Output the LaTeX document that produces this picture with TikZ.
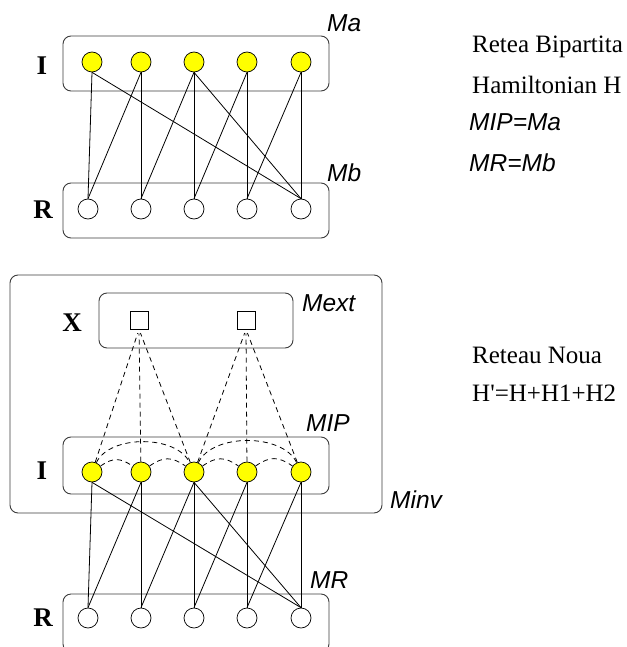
\documentclass[tikz,border=0pt]{standalone}
\usepackage{fontspec}
\setmainfont{Liberation Serif}
\newfontfamily\labelfont{Liberation Sans}
\definecolor{nodeyellow}{RGB}{255, 255, 0}
\definecolor{boxgray}{RGB}{60, 60, 60}
\usetikzlibrary{positioning, calc}

\tikzset{
  inode/.style={circle, draw, fill=nodeyellow, minimum size=20pt, inner sep=0pt, line width=0.7pt},
  rnode/.style={circle, draw, fill=white, minimum size=20pt, inner sep=0pt, line width=0.7pt},
  xnode/.style={rectangle, draw, fill=white, minimum size=18pt, inner sep=0pt, line width=0.7pt},
  group/.style={draw=boxgray, rounded corners=8pt, line width=0.9pt},
  setname/.style={font=\fontsize{27}{30}\selectfont\bfseries},
  mname/.style={font=\labelfont\itshape\fontsize{24.5}{27}\selectfont, anchor=west, inner sep=0pt},
  note/.style={font=\fontsize{25}{28}\selectfont, anchor=west, inner sep=0pt},
  link/.style={line width=0.8pt},
  dlink/.style={line width=0.8pt, dash pattern=on 5pt off 4pt},
  shortarc/.style={dlink, out=35, in=145, looseness=1.2},
  longarc/.style={dlink, out=65, in=115, looseness=0.85}
}

\begin{document}
\begin{tikzpicture}[x=1pt, y=-1pt]
  \useasboundingbox (0,0) rectangle (626,647);

  % Bipartite network
  \draw[group] (63,36) rectangle (329,91);
  \draw[group] (63,183) rectangle (329,238);
  \node[setname] (li1) at (42,66) {I};
  \node[setname] (lr1) at (43,210) {R};
  \node[mname] (ma) at (327,23) {Ma};
  \node[mname] (mb) at (327,173) {Mb};

  \node[inode] (ia1) at (92,62) {};
  \node[inode] (ia2) at (141,62) {};
  \node[inode] (ia3) at (194,62) {};
  \node[inode] (ia4) at (247,62) {};
  \node[inode] (ia5) at (301,62) {};

  \node[rnode] (rb1) at (88,209) {};
  \node[rnode] (rb2) at (141,209) {};
  \node[rnode] (rb3) at (194,209) {};
  \node[rnode] (rb4) at (247,209) {};
  \node[rnode] (rb5) at (301,209) {};

  \draw[link] (ia1.south) -- (rb1.north);
  \draw[link] (ia1.south) -- (rb5.north);
  \draw[link] (ia2.south) -- (rb1.north);
  \draw[link] (ia2.south) -- (rb2.north);
  \draw[link] (ia3.south) -- (rb2.north);
  \draw[link] (ia3.south) -- (rb3.north);
  \draw[link] (ia3.south) -- (rb5.north);
  \draw[link] (ia4.south) -- (rb3.north);
  \draw[link] (ia4.south) -- (rb4.north);
  \draw[link] (ia5.south) -- (rb4.north);
  \draw[link] (ia5.south) -- (rb5.north);

  % Notes on the right
  \node[note] (t1) at (472,47) {Retea Bipartita};
  \node[note] (t2) at (472,85) {Hamiltonian H};
  \node[mname] (t3) at (469,122) {MIP=Ma};
  \node[mname] (t4) at (469,163) {MR=Mb};
  \node[note] (t5) at (472,355) {Reteau Noua};
  \node[note] (t6) at (472,393) {H\textquotesingle=H+H1+H2};

  % New network
  \draw[group] (10,275) rectangle (382,513);
  \draw[group] (99,293) rectangle (293,348);
  \draw[group] (63,437) rectangle (329,494);
  \draw[group] (63,594) rectangle (329,652);
  \node[setname] (lx) at (72,323) {X};
  \node[setname] (li2) at (42,471) {I};
  \node[setname] (lr2) at (43,618) {R};
  \node[mname] (mext) at (302,303) {Mext};
  \node[mname] (mip) at (306,423) {MIP};
  \node[mname] (minv) at (390,500) {Minv};
  \node[mname] (mr) at (310,580) {MR};

  \node[xnode] (x1) at (139,320) {};
  \node[xnode] (x2) at (246,320) {};

  \node[inode] (ip1) at (92,472) {};
  \node[inode] (ip2) at (141,472) {};
  \node[inode] (ip3) at (194,472) {};
  \node[inode] (ip4) at (247,472) {};
  \node[inode] (ip5) at (301,472) {};

  \node[rnode] (r1) at (88,618) {};
  \node[rnode] (r2) at (141,618) {};
  \node[rnode] (r3) at (194,618) {};
  \node[rnode] (r4) at (247,618) {};
  \node[rnode] (r5) at (301,618) {};

  \draw[dlink, shorten >=4pt] (ip1) -- (x1.south);
  \draw[dlink, shorten >=4pt] (ip2) -- (x1.south);
  \draw[dlink, shorten >=4pt] (ip3) -- (x1.south);
  \draw[dlink, shorten >=4pt] (ip3) -- (x2.south);
  \draw[dlink, shorten >=4pt] (ip4) -- (x2.south);
  \draw[dlink, shorten >=4pt] (ip5) -- (x2.south);

  \draw[shortarc] (ip1) to (ip2);
  \draw[shortarc] (ip2) to (ip3);
  \draw[longarc] (ip1) to (ip3);
  \draw[shortarc] (ip3) to (ip4);
  \draw[shortarc] (ip4) to (ip5);
  \draw[longarc] (ip3) to (ip5);

  \draw[link] (ip1.south) -- (r1.north);
  \draw[link] (ip1.south) -- (r5.north);
  \draw[link] (ip2.south) -- (r1.north);
  \draw[link] (ip2.south) -- (r2.north);
  \draw[link] (ip3.south) -- (r2.north);
  \draw[link] (ip3.south) -- (r3.north);
  \draw[link] (ip3.south) -- (r5.north);
  \draw[link] (ip4.south) -- (r3.north);
  \draw[link] (ip4.south) -- (r4.north);
  \draw[link] (ip5.south) -- (r4.north);
  \draw[link] (ip5.south) -- (r5.north);
\end{tikzpicture}
\end{document}
